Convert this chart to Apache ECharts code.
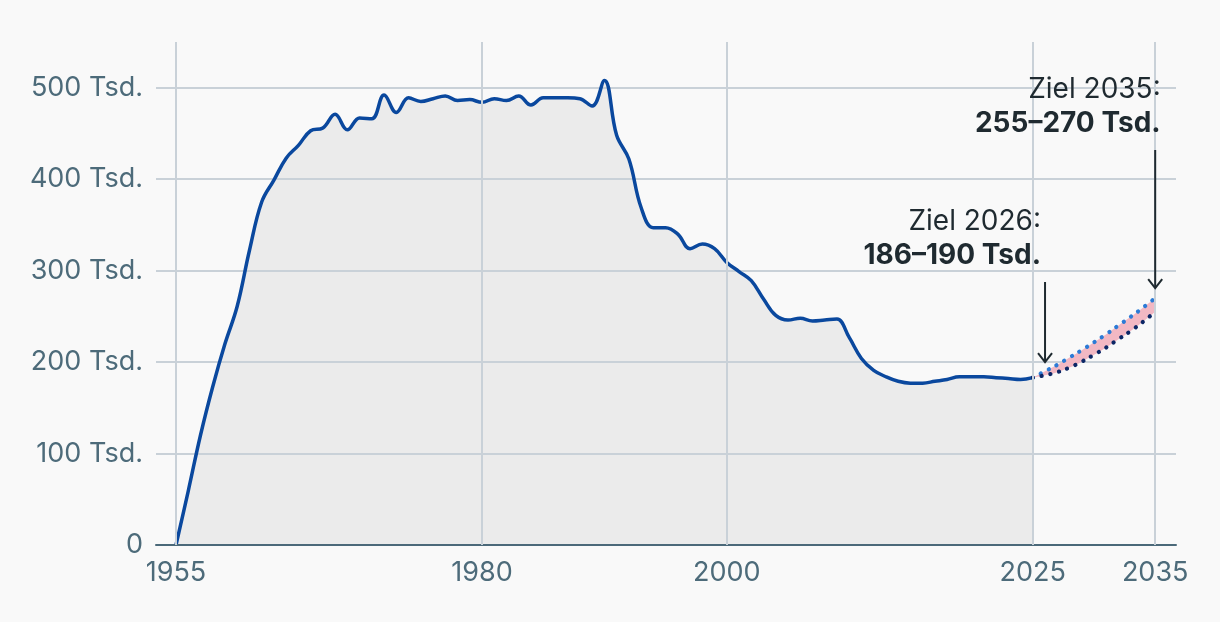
<!DOCTYPE html>
<html>
<head>
<meta charset="utf-8">
<script src="https://cdn.jsdelivr.net/npm/echarts@6/dist/echarts.min.js"></script>
<style>
html,body{margin:0;padding:0;background:#f9f9f9;}
#c{width:1220px;height:622px;}
</style>
</head>
<body>
<div id="c"></div>
<script>
// ---- data ----
const years = [1955,1956,1957,1958,1959,1960,1961,1962,1963,1964,1965,1966,1967,1968,1969,1970,
  1971,1972,1973,1974,1975,1976,1977,1978,1979,1980,1981,1982,1983,1984,1985,1986,1987,1988,1989,1990,
  1991,1992,1993,1994,1995,1996,1997,1998,1999,2000,2001,2002,2003,2004,2005,2006,2007,2008,2009,2010,
  2011,2012,2013,2014,2015,2016,2017,2018,2019,2020,2021,2022,2023,2024,2025];
const valuesTsd = [0,59,120,173,220,261,322,375,399,423,437,453,456,471,454,467,
  466,492,473,489,485,488,491,486,487,484,488,486,491,481,489,489,489,488,480,508,
  448,422,369,347,347,340,324,329,324,309,299,289,269,251,246,248,245,246,247,227,
  204,191,184,179,177,177,179,181,184,184,184,183,182,181,183];
const projYears = [2025,2026,2027,2028,2029,2030,2031,2032,2033,2034,2035];
const projUpper = [183,190,197,205,213,221.6,230.5,240,249.5,259.5,270];
const projLower = [183,185.6,189,194,200.5,208,216,225,234,244,255];
const xTickYears = [1955,1980,2000,2025,2035];
const yTickValues = [0,100,200,300,400,500];
const annotations = [
  {year:2026, title:'Ziel 2026:', range:'186–190 Tsd.', arrowFrom:287.6, arrowTo:200},
  {year:2035, title:'Ziel 2035:', range:'255–270 Tsd.', arrowFrom:431.9, arrowTo:281}
];

// ---- styles ----
const FONT = 'Inter, "Noto Sans", sans-serif';
const GRID_COLOR = '#c9d1d8';
const LABEL_COLOR = '#4d6b7a';
const TEXT_DARK = '#1f2a30';
const labelDx = [-4, 5.5];

const pair = (xs, ys) => xs.map((x, i) => [x, ys[i]]);
const mainData = pair(years, valuesTsd);
const lowerData = pair(projYears, projLower);
const upperData = pair(projYears, projUpper);
// for stacking: value first, year second (stack on the value dimension)
const lowerStackData = projYears.map((x, i) => [projLower[i], x]);
const diffStackData = projYears.map((x, i) => [projUpper[i] - projLower[i], x]);

const chart = echarts.init(document.getElementById('c'), null, {renderer:'canvas'});
const SMOOTH = 0.4;

chart.setOption({
  backgroundColor:'#f9f9f9',
  animation:false,
  grid:[
    {left:156, right:44, top:42, bottom:77},
    {left:176, right:44, top:42, bottom:77}
  ],
  xAxis:[
    {gridIndex:0, type:'value', min:0, max:1, z:4,
     axisLine:{show:true, lineStyle:{color:'#4b6979', width:2}},
     axisTick:{show:false}, axisLabel:{show:false}, splitLine:{show:false}},
    {gridIndex:1, type:'value', min:1955, max:2036.7, interval:5,
     axisLine:{show:false}, axisTick:{show:false}, splitLine:{show:false},
     axisLabel:{interval:0, showMaxLabel:false, margin:14, color:LABEL_COLOR, fontSize:27, fontFamily:FONT,
       formatter:v => xTickYears.includes(v) ? String(v) : ''}}
  ],
  yAxis:[
    {gridIndex:0, type:'value', min:0, max:550, interval:100, z:2,
     axisLine:{show:false}, axisTick:{show:false},
     axisLabel:{showMaxLabel:false, margin:13, color:LABEL_COLOR, fontSize:27, fontFamily:FONT,
       formatter:v => yTickValues.includes(v) ? (v === 0 ? '0' : v + ' Tsd.') : ''},
     splitLine:{show:true, showMaxLine:false, lineStyle:{color:GRID_COLOR, width:2}}},
    {gridIndex:1, type:'value', min:0, max:550, show:false}
  ],
  series:[
    {name:'area', type:'line', xAxisIndex:1, yAxisIndex:1, data:mainData, smooth:SMOOTH,
     symbol:'none', lineStyle:{width:0}, areaStyle:{color:'#ebebeb', opacity:1}, z:1, silent:true},
    {name:'vgrid', type:'line', xAxisIndex:1, yAxisIndex:1, data:mainData, symbol:'none',
     lineStyle:{opacity:0}, z:2, silent:true,
     markLine:{silent:true, symbol:['none','none'], label:{show:false},
       lineStyle:{color:GRID_COLOR, width:2, type:'solid'},
       data:xTickYears.map(y => ({xAxis:y}))}},
    {name:'main', type:'line', xAxisIndex:1, yAxisIndex:1, data:mainData, smooth:SMOOTH,
     symbol:'none', lineStyle:{color:'#0a489e', width:3.5}, z:3},
    {name:'bandBase', type:'line', xAxisIndex:1, yAxisIndex:1, data:lowerStackData,
     dimensions:['v','year'], encode:{x:'year', y:'v'}, smooth:SMOOTH,
     stack:'band', symbol:'none', lineStyle:{opacity:0}, z:3, silent:true},
    {name:'band', type:'line', xAxisIndex:1, yAxisIndex:1, data:diffStackData,
     dimensions:['v','year'], encode:{x:'year', y:'v'}, smooth:SMOOTH,
     stack:'band', symbol:'none', lineStyle:{opacity:0}, areaStyle:{color:'#f2b8c3', opacity:1}, z:3, silent:true},
    {name:'upper', type:'line', xAxisIndex:1, yAxisIndex:1, data:upperData, smooth:SMOOTH,
     symbol:'none', lineStyle:{color:'#2c7bd6', width:4.2, type:[0.1, 8.8], cap:'round'}, z:4},
    {name:'lower', type:'line', xAxisIndex:1, yAxisIndex:1, data:lowerData, smooth:SMOOTH,
     symbol:'none', lineStyle:{color:'#0c2766', width:4.2, type:[0.1, 8.8], cap:'round'}, z:4}
  ]
});

// annotations placed through the data axes
const finder = {xAxisIndex:1, yAxisIndex:1};
const elements = [];
annotations.forEach((a, i) => {
  const p0 = chart.convertToPixel(finder, [a.year, a.arrowFrom]);
  const p1 = chart.convertToPixel(finder, [a.year, a.arrowTo]);
  const x = p0[0];
  elements.push({type:'line', z:10, shape:{x1:x, y1:p0[1], x2:x, y2:p1[1]},
    style:{stroke:TEXT_DARK, lineWidth:2}});
  elements.push({type:'polyline', z:10, shape:{points:[[x-7, p1[1]-9],[x, p1[1]],[x+7, p1[1]-9]]},
    style:{stroke:TEXT_DARK, lineWidth:2, fill:null}});
  elements.push({type:'text', z:10, x:x + labelDx[i], y:p0[1] - 60,
    style:{text:a.title, fill:TEXT_DARK, font:'400 28px ' + FONT, align:'right', verticalAlign:'middle'}});
  elements.push({type:'text', z:10, x:x + labelDx[i], y:p0[1] - 26,
    style:{text:a.range, fill:TEXT_DARK, font:'700 28px ' + FONT, align:'right', verticalAlign:'middle'}});
});
chart.setOption({graphic:{elements}});
</script>
</body>
</html>
